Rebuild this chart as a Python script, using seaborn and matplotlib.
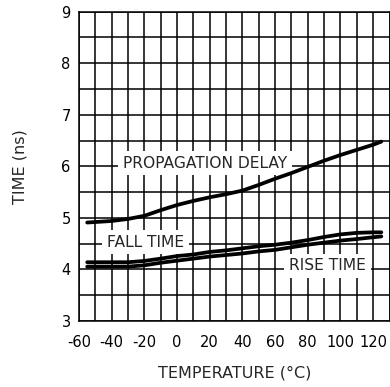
import matplotlib
matplotlib.use("Agg")
import matplotlib.pyplot as plt
import seaborn as sns
import pandas as pd

temps = [-55, -40, -30, -20, -10, 0, 10, 20, 30, 40, 50, 60, 70, 80, 90, 100, 110, 120, 125]
prop_delay = [4.91, 4.94, 4.98, 5.04, 5.15, 5.25, 5.33, 5.40, 5.46, 5.53, 5.64, 5.76, 5.87, 5.99, 6.11, 6.22, 6.32, 6.42, 6.48]
fall_time = [4.14, 4.14, 4.14, 4.165, 4.21, 4.26, 4.29, 4.34, 4.37, 4.41, 4.45, 4.48, 4.52, 4.57, 4.63, 4.68, 4.71, 4.72, 4.72]
rise_time = [4.055, 4.055, 4.055, 4.08, 4.13, 4.17, 4.21, 4.25, 4.28, 4.31, 4.35, 4.38, 4.43, 4.48, 4.52, 4.56, 4.59, 4.625, 4.64]

x_ticks = [-60, -40, -20, 0, 20, 40, 60, 80, 100, 120]
y_ticks = [3, 4, 5, 6, 7, 8, 9]

sns.set_style("white")
plt.rcParams['font.family'] = ['DejaVu Sans']

fig = plt.figure(figsize=(3.9, 3.87), dpi=100)
ax = fig.add_axes([79 / 390, 66 / 387, 310.5 / 390, 309.3 / 387])

df = pd.DataFrame({"temp": temps, "prop": prop_delay, "fall": fall_time, "rise": rise_time})
for col in ["prop", "fall", "rise"]:
    sns.lineplot(data=df, x="temp", y=col, ax=ax, color="black", lw=2.7, zorder=5)

ax.set_xlim(-60, 130)
ax.set_ylim(3, 9)
ax.set_xticks(x_ticks)
ax.set_xticks(list(range(-50, 131, 20)), minor=True)
ax.set_yticks(y_ticks)
ax.set_yticks([3.5 + i for i in range(6)], minor=True)
ax.set_xticklabels([str(t) for t in x_ticks])
ax.set_yticklabels([str(t) for t in y_ticks])
ax.tick_params(axis="both", which="both", length=0, labelsize=10.5, colors="black")
ax.tick_params(axis="x", pad=10)
ax.tick_params(axis="y", pad=6)
ax.grid(True, which="both", color="black", lw=1.1)
ax.set_axisbelow(True)
for s in ax.spines.values():
    s.set_color("black")
    s.set_linewidth(1.1)

ax.set_xlabel("TEMPERATURE (°C)", fontsize=11.5, labelpad=11)
ax.set_ylabel("TIME (ns)", fontsize=11.5, labelpad=24)

box = dict(facecolor="white", edgecolor="none", boxstyle="square,pad=0.3")
ax.text(17, 6.06, "PROPAGATION DELAY", ha="center", va="center", fontsize=11.2, bbox=box, zorder=3)
ax.text(-19.3, 4.53, "FALL TIME", ha="center", va="center", fontsize=11.2, bbox=box, zorder=3)
ax.text(92, 4.07, "RISE TIME", ha="center", va="center", fontsize=11.2, bbox=box, zorder=3)

fig.savefig("out.png", dpi=100)
